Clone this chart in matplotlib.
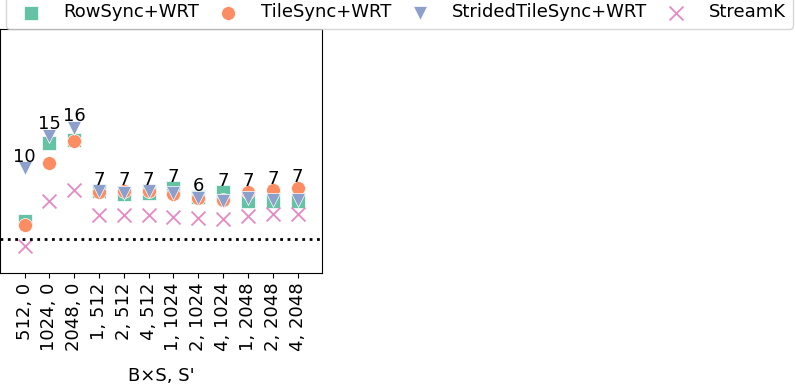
import numpy as np
import matplotlib
matplotlib.use("Agg")
import matplotlib.pyplot as plt

# x categories (B×S, S')
configs = ["512, 0", "1024, 0", "2048, 0", "1, 512", "2, 512", "4, 512",
           "1, 1024", "2, 1024", "4, 1024", "1, 2048", "2, 2048", "4, 2048"]

# speedups (dotted line = 1.0)
rowsync = [1.18, 1.96, 1.99, 1.48, 1.45, 1.46, 1.51, 1.42, 1.47, 1.38, 1.38, 1.38]
tilesync = [1.14, 1.76, 1.98, 1.47, 1.48, 1.48, 1.45, 1.41, 1.39, 1.47, 1.49, 1.51]
strided = [1.71, 2.03, 2.11, 1.48, 1.46, 1.48, 1.46, 1.41, 1.38, 1.41, 1.39, 1.39]
streamk = [0.93, 1.38, 1.49, 1.24, 1.24, 1.24, 1.22, 1.21, 1.20, 1.23, 1.25, 1.25]

# numbers printed above each group
labels = [10, 15, 16, 7, 7, 7, 7, 6, 7, 7, 7, 7]

series = [("RowSync+WRT", rowsync, "s", "#66c2a5"),
          ("TileSync+WRT", tilesync, "o", "#fc8d62"),
          ("StridedTileSync+WRT", strided, "v", "#8da0cb"),
          ("StreamK", streamk, "x", "#e78ac3")]

plt.rcParams["font.size"] = 13

fig = plt.figure(figsize=(7.95, 3.89), dpi=100)
ax = fig.add_axes([0.0006, 0.298, 0.404, 0.627])

x = np.arange(len(configs))
for name, vals, mk, col in series:
    if mk == "x":
        ax.scatter(x, vals, marker=mk, s=100, color=col, linewidths=1.3, label=name)
    else:
        ax.scatter(x, vals, marker=mk, s=100, color=col, edgecolors="white",
                   linewidths=0.5, label=name)

ax.axhline(1.0, color="black", linestyle=":", linewidth=2)

top = np.max([rowsync, tilesync, strided, streamk], axis=0)
for i, lab in enumerate(labels):
    ax.annotate(str(lab), (x[i], top[i]), xytext=(0, 1.5), textcoords="offset points",
                ha="center", va="bottom")

ax.set_xlim(-0.97, 11.97)
ax.set_ylim(0.66, 3.09)
ax.set_xticks(x)
ax.set_xticklabels(configs, rotation=90)
ax.set_yticks([])
ax.set_xlabel("B×S, S'", labelpad=11)

fig.legend(loc="upper left", bbox_to_anchor=(0.0075, 1.01, 0.99, 0.0), mode="expand",
           ncol=4, borderaxespad=0.0)

fig.savefig("out.png", dpi=100)
